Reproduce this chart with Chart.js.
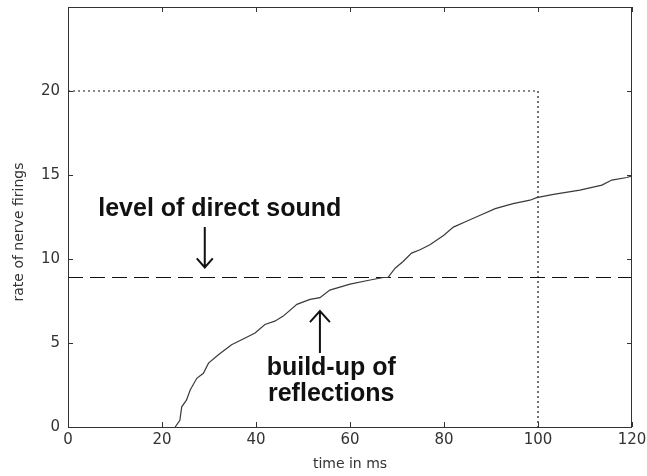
<!DOCTYPE html>
<html>
<head>
<meta charset="utf-8">
<script src="https://cdn.jsdelivr.net/npm/chart.js@4"></script>
<style>
  html, body { margin: 0; padding: 0; background: #fff; }
  #caixa { width: 647px; height: 476px; }
</style>
</head>
<body>
<div id="caixa"><canvas id="grafico"></canvas></div>
<script>
// curve: time in ms / rate of nerve firings
const tempoMs = [22.8, 23.8, 24.2, 25.2, 26.0, 27.4, 28.8, 29.9, 32.0, 34.8, 37.7, 39.8, 41.9, 44.0,
  45.8, 48.7, 51.5, 53.6, 55.7, 60.0, 64.3, 67.1, 68.1, 69.6, 71.3, 73.1, 74.9, 77.0, 79.9, 82.0,
  84.8, 87.7, 90.9, 94.7, 98.3, 99.7, 103.3, 108.9, 113.6, 115.7, 118.9, 120];
const taxaDisparos = [0, 0.4, 1.2, 1.6, 2.2, 2.9, 3.2, 3.8, 4.3, 4.9, 5.3, 5.6, 6.1, 6.3,
  6.6, 7.3, 7.6, 7.7, 8.15, 8.5, 8.75, 8.9, 8.9, 9.45, 9.85, 10.35, 10.55, 10.85, 11.4, 11.9,
  12.25, 12.6, 13.0, 13.3, 13.5, 13.65, 13.85, 14.1, 14.4, 14.7, 14.85, 14.95];

// ticks of the axes
const ticksX = [0, 20, 40, 60, 80, 100, 120];
const ticksY = [0, 5, 10, 15, 20];

// reference lines
const nivelSomDireto = 8.9;  // dashed line
const janelaTempo = 100;     // dotted vertical
const janelaNivel = 20;      // dotted horizontal

const tituloY = 'rate of nerve firings';

// labels with arrows (in data units)
const textos = [
  { txt: 'level of direct sound', x: 32.3, y: 12.56 },
  { txt: 'build-up of', x: 56, y: 3.1 },
  { txt: 'reflections', x: 56, y: 1.52 }
];
const setas = [
  { x: 29.1, de: 11.9, ate: 9.5, abre: 8, ponta: 9 },
  { x: 53.6, de: 4.4, ate: 6.9, abre: 10, ponta: 11 }
];

// box + inward ticks, like matlab
const molduraPlugin = {
  id: 'moldura',
  afterDatasetsDraw(chart) {
    const { ctx, chartArea: a, scales: { x, y } } = chart;
    ctx.save();
    ctx.strokeStyle = '#333';
    ctx.lineWidth = 1;
    ctx.strokeRect(a.left + 0.5, a.top + 0.5, a.right - a.left - 1, a.bottom - a.top);
    ctx.beginPath();
    ticksX.forEach(v => {
      const px = Math.round(x.getPixelForValue(v)) + 0.5;
      ctx.moveTo(px, a.bottom); ctx.lineTo(px, a.bottom - 5);
      ctx.moveTo(px, a.top); ctx.lineTo(px, a.top + 5);
    });
    ticksY.forEach(v => {
      const py = Math.round(y.getPixelForValue(v)) + 0.5;
      ctx.moveTo(a.left, py); ctx.lineTo(a.left + 5, py);
      ctx.moveTo(a.right, py); ctx.lineTo(a.right - 5, py);
    });
    ctx.stroke();

    // y title, a bit below the middle like in the figure
    ctx.save();
    ctx.translate(19, (a.top + a.bottom) / 2 + 15);
    ctx.rotate(-Math.PI / 2);
    ctx.fillStyle = '#333';
    ctx.font = '14px "DejaVu Sans", sans-serif';
    ctx.textAlign = 'center';
    ctx.textBaseline = 'middle';
    ctx.fillText(tituloY, 0, 0);
    ctx.restore();

    // texts
    ctx.fillStyle = '#111';
    ctx.font = 'bold 25px "Liberation Sans", Arial, sans-serif';
    ctx.textAlign = 'center';
    ctx.textBaseline = 'alphabetic';
    textos.forEach(t => ctx.fillText(t.txt, x.getPixelForValue(t.x), y.getPixelForValue(t.y)));

    // arrows
    ctx.strokeStyle = '#111';
    ctx.lineWidth = 2;
    setas.forEach(s => {
      const px = x.getPixelForValue(s.x);
      const y1 = y.getPixelForValue(s.de);
      const y2 = y.getPixelForValue(s.ate);
      const dir = y2 > y1 ? -1 : 1;
      ctx.beginPath();
      ctx.moveTo(px, y1); ctx.lineTo(px, y2);
      ctx.moveTo(px - s.abre, y2 + dir * s.ponta); ctx.lineTo(px, y2); ctx.lineTo(px + s.abre, y2 + dir * s.ponta);
      ctx.stroke();
    });
    ctx.restore();
  }
};

const fonteEixo = { family: '"DejaVu Sans", sans-serif', size: 15 };

const grafico = new Chart(document.getElementById('grafico'), {
  type: 'scatter',
  data: {
    datasets: [
      {
        data: tempoMs.map((t, i) => ({ x: t, y: taxaDisparos[i] })),
        showLine: true, borderColor: '#3a3a3a', borderWidth: 1.2, pointRadius: 0, tension: 0
      },
      {
        data: [{ x: ticksX[0], y: nivelSomDireto }, { x: ticksX[ticksX.length - 1], y: nivelSomDireto }],
        showLine: true, borderColor: '#111', borderWidth: 1.2, borderDash: [15, 7], pointRadius: 0
      },
      {
        data: [{ x: 0, y: janelaNivel }, { x: janelaTempo, y: janelaNivel }, { x: janelaTempo, y: 0 }],
        showLine: true, borderColor: '#111', borderWidth: 1.2, borderDash: [2, 3], pointRadius: 0
      }
    ]
  },
  options: {
    responsive: true,
    maintainAspectRatio: false,
    animation: false,
    layout: { padding: { top: 7, right: 15, left: 0, bottom: 0 } },
    plugins: { legend: { display: false }, tooltip: { enabled: false } },
    scales: {
      x: {
        type: 'linear', min: 0, max: 120,
        grid: { display: false, drawTicks: false },
        border: { display: false },
        ticks: { font: fonteEixo, color: '#333', padding: 4, maxRotation: 0, autoSkip: false },
        afterBuildTicks: s => { s.ticks = ticksX.map(v => ({ value: v })); },
        afterFit: s => { s.height = 49; s.paddingLeft = 0; s.paddingRight = 0; },
        title: { display: true, text: 'time in ms', color: '#333',
          font: { family: '"DejaVu Sans", sans-serif', size: 14 }, padding: { top: 0, bottom: 3 } }
      },
      y: {
        type: 'linear', min: 0, max: 25,
        grid: { display: false, drawTicks: false },
        border: { display: false },
        ticks: { font: fonteEixo, color: '#333', padding: 8, autoSkip: false },
        afterBuildTicks: s => { s.ticks = ticksY.map(v => ({ value: v })); },
        afterFit: s => { s.width = 68; s.paddingTop = 0; s.paddingBottom = 0; }
      }
    }
  },
  plugins: [molduraPlugin]
});
</script>
</body>
</html>
